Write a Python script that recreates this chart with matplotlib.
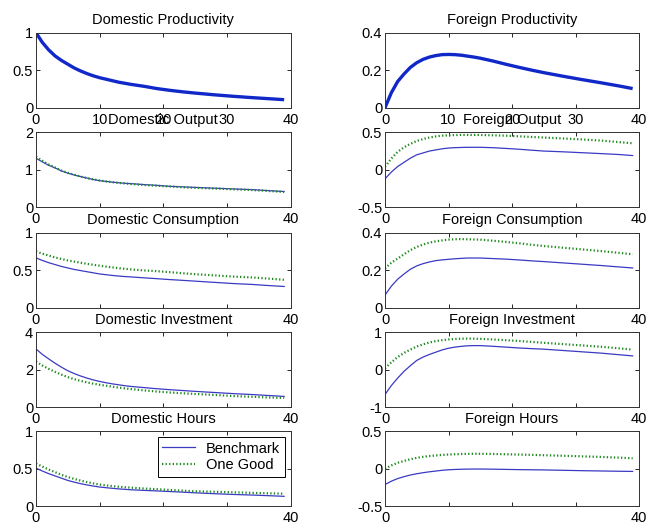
import matplotlib
matplotlib.use("Agg")
import matplotlib.pyplot as plt

# ---- data ----
t = [0, 1, 2, 3, 4, 5, 6, 7, 8, 9, 10,
     11, 12, 13, 14, 15,
     17, 19, 21, 23, 25,
     28, 31, 34, 37, 39]

dom_prod = [1.0, 0.87, 0.77, 0.69, 0.63, 0.58, 0.53, 0.49, 0.455, 0.425, 0.40,
            0.38, 0.36, 0.34, 0.325, 0.31,
            0.285, 0.255, 0.232, 0.212, 0.195,
            0.172, 0.152, 0.134, 0.118, 0.107]
for_prod = [0.0, 0.08, 0.14, 0.18, 0.215, 0.24, 0.258, 0.27, 0.278, 0.283, 0.284,
            0.283, 0.28, 0.275, 0.27, 0.264,
            0.249, 0.232, 0.216, 0.201, 0.187,
            0.168, 0.15, 0.133, 0.115, 0.102]

dom_out_bench = [1.31, 1.21, 1.12, 1.05, 0.97, 0.91, 0.86, 0.82, 0.78, 0.74, 0.71,
                 0.69, 0.67, 0.655, 0.64, 0.63,
                 0.605, 0.585, 0.56, 0.545, 0.53,
                 0.51, 0.49, 0.47, 0.44, 0.42]
dom_out_one = [1.35, 1.24, 1.14, 1.06, 0.98, 0.92, 0.87, 0.82, 0.78, 0.745, 0.715,
               0.69, 0.67, 0.65, 0.635, 0.62,
               0.595, 0.575, 0.555, 0.535, 0.52,
               0.50, 0.48, 0.46, 0.43, 0.41]
for_out_bench = [-0.12, -0.03, 0.044, 0.10, 0.155, 0.20, 0.225, 0.25, 0.265, 0.28, 0.29,
                 0.295, 0.298, 0.30, 0.30, 0.30,
                 0.295, 0.285, 0.275, 0.262, 0.25,
                 0.24, 0.228, 0.216, 0.203, 0.19]
for_out_one = [0.04, 0.15, 0.24, 0.30, 0.345, 0.385, 0.41, 0.43, 0.445, 0.455, 0.46,
               0.463, 0.465, 0.465, 0.465, 0.464,
               0.46, 0.455, 0.447, 0.438, 0.43,
               0.418, 0.405, 0.39, 0.368, 0.354]

dom_con_bench = [0.664, 0.63, 0.60, 0.575, 0.55, 0.53, 0.51, 0.495, 0.48, 0.465, 0.45,
                 0.44, 0.43, 0.422, 0.415, 0.41,
                 0.398, 0.387, 0.375, 0.365, 0.354,
                 0.338, 0.322, 0.31, 0.293, 0.283]
dom_con_one = [0.75, 0.72, 0.695, 0.67, 0.65, 0.63, 0.615, 0.60, 0.585, 0.572, 0.56,
               0.548, 0.537, 0.527, 0.518, 0.51,
               0.497, 0.487, 0.474, 0.46, 0.447,
               0.431, 0.415, 0.403, 0.385, 0.372]
for_con_bench = [0.067, 0.115, 0.152, 0.18, 0.205, 0.223, 0.235, 0.244, 0.251, 0.255, 0.258,
                 0.261, 0.263, 0.265, 0.265, 0.265,
                 0.262, 0.259, 0.255, 0.25, 0.246,
                 0.239, 0.232, 0.225, 0.217, 0.212]
for_con_one = [0.209, 0.24, 0.262, 0.285, 0.307, 0.324, 0.337, 0.347, 0.354, 0.359, 0.363,
               0.365, 0.366, 0.365, 0.364, 0.363,
               0.357, 0.351, 0.344, 0.336, 0.329,
               0.32, 0.311, 0.302, 0.292, 0.285]

dom_inv_bench = [3.11, 2.82, 2.58, 2.35, 2.14, 1.95, 1.80, 1.67, 1.56, 1.46, 1.38,
                 1.31, 1.25, 1.20, 1.15, 1.11,
                 1.05, 0.99, 0.94, 0.895, 0.85,
                 0.79, 0.73, 0.68, 0.62, 0.58]
dom_inv_one = [2.44, 2.23, 2.05, 1.89, 1.74, 1.61, 1.50, 1.41, 1.33, 1.26, 1.20,
               1.15, 1.10, 1.05, 1.01, 0.97,
               0.90, 0.84, 0.79, 0.75, 0.71,
               0.66, 0.60, 0.56, 0.52, 0.50]
for_inv_bench = [-0.66, -0.42, -0.22, -0.04, 0.11, 0.25, 0.34, 0.41, 0.47, 0.53, 0.575,
                 0.605, 0.625, 0.64, 0.645, 0.645,
                 0.627, 0.605, 0.583, 0.565, 0.55,
                 0.515, 0.48, 0.445, 0.40, 0.37]
for_inv_one = [0.04, 0.20, 0.34, 0.45, 0.54, 0.62, 0.68, 0.73, 0.765, 0.79, 0.81,
               0.822, 0.83, 0.832, 0.83, 0.825,
               0.81, 0.79, 0.77, 0.745, 0.72,
               0.685, 0.65, 0.615, 0.57, 0.54]

dom_hrs_bench = [0.51, 0.47, 0.435, 0.405, 0.375, 0.345, 0.322, 0.302, 0.285, 0.27, 0.257,
                 0.248, 0.24, 0.232, 0.226, 0.22,
                 0.212, 0.205, 0.197, 0.189, 0.18,
                 0.168, 0.158, 0.15, 0.14, 0.133]
dom_hrs_one = [0.57, 0.53, 0.49, 0.455, 0.42, 0.39, 0.365, 0.343, 0.323, 0.305, 0.29,
               0.279, 0.269, 0.261, 0.254, 0.248,
               0.237, 0.228, 0.218, 0.209, 0.20,
               0.194, 0.187, 0.179, 0.172, 0.168]
for_hrs_bench = [-0.21, -0.165, -0.13, -0.105, -0.083, -0.066, -0.052, -0.04, -0.03, -0.02, -0.013,
                 -0.009, -0.006, -0.004, -0.003, -0.003,
                 -0.005, -0.008, -0.011, -0.013, -0.015,
                 -0.02, -0.025, -0.029, -0.033, -0.035]
for_hrs_one = [0.0, 0.045, 0.08, 0.105, 0.128, 0.146, 0.16, 0.17, 0.178, 0.185, 0.19,
               0.194, 0.197, 0.199, 0.2, 0.2,
               0.198, 0.194, 0.19, 0.186, 0.181,
               0.174, 0.166, 0.158, 0.148, 0.14]

titles = [["Domestic Productivity", "Foreign Productivity"],
          ["Domestic Output", "Foreign Output"],
          ["Domestic Consumption", "Foreign Consumption"],
          ["Domestic Investment", "Foreign Investment"],
          ["Domestic Hours", "Foreign Hours"]]

yticks = [[[0, 0.5, 1], [0, 0.2, 0.4]],
          [[0, 1, 2], [-0.5, 0, 0.5]],
          [[0, 0.5, 1], [0, 0.2, 0.4]],
          [[0, 2, 4], [-1, 0, 1]],
          [[0, 0.5, 1], [-0.5, 0, 0.5]]]
ytick_labels = [[["0", "0.5", "1"], ["0", "0.2", "0.4"]],
                [["0", "1", "2"], ["-0.5", "0", "0.5"]],
                [["0", "0.5", "1"], ["0", "0.2", "0.4"]],
                [["0", "2", "4"], ["-1", "0", "1"]],
                [["0", "0.5", "1"], ["-0.5", "0", "0.5"]]]

xticks = [0, 10, 20, 30, 40]
xtick_labels_full = ["0", "10", "20", "30", "40"]
xtick_labels_short = ["0", "", "", "", "40"]

bench = [[dom_out_bench, for_out_bench], [dom_con_bench, for_con_bench],
         [dom_inv_bench, for_inv_bench], [dom_hrs_bench, for_hrs_bench]]
one = [[dom_out_one, for_out_one], [dom_con_one, for_con_one],
       [dom_inv_one, for_inv_one], [dom_hrs_one, for_hrs_one]]

# ---- figure ----
plt.rcParams['font.family'] = ['Liberation Sans', 'DejaVu Sans']
plt.rcParams['font.size'] = 10

fig = plt.figure(figsize=(6.47, 5.29), dpi=100)
W, H = 647.0, 529.0
col_left = [36.0, 385.0]
col_w = [254.5, 254.0]
row_top = [32.7, 132.3, 232.7, 332.3, 431.3]
ax_h = 75.0

bench_color = '#3a3ac4'
one_color = '#1f8a1f'
prod_color = '#1028c8'

for r in range(5):
    for c in range(2):
        ax = fig.add_axes([col_left[c] / W, 1 - (row_top[r] + ax_h) / H,
                           col_w[c] / W, ax_h / H])
        if r == 0:
            data = dom_prod if c == 0 else for_prod
            ax.plot(t, data, color=prod_color, lw=2.4, solid_capstyle='butt',
                    solid_joinstyle='round')
        else:
            ax.plot(t, bench[r - 1][c], color=bench_color, lw=0.9, label='Benchmark')
            ax.plot(t, one[r - 1][c], color=one_color, lw=1.6,
                    linestyle=(0, (0.6, 1.0)), dash_capstyle='butt', label='One Good')
        yt = yticks[r][c]
        ax.set_ylim(yt[0], yt[-1])
        ax.set_yticks(yt)
        ax.set_yticklabels(ytick_labels[r][c])
        ax.set_xlim(0, 40)
        ax.set_xticks(xticks)
        ax.set_xticklabels(xtick_labels_full if r == 0 else xtick_labels_short)
        ax.tick_params(direction='in', length=3, width=0.6, top=True, right=True,
                       labelsize=10.5, colors='black')
        ax.tick_params(axis='x', pad=3.5)
        ax.tick_params(axis='y', pad=2)
        for s in ax.spines.values():
            s.set_linewidth(0.7)
            s.set_color('#333333')
        ax.set_title(titles[r][c], fontsize=10.5, pad=6)
        if r == 4 and c == 0:
            leg = ax.legend(loc='upper right', fontsize=10.5, frameon=True, fancybox=False,
                            framealpha=1, edgecolor='black', handlelength=2.2,
                            borderpad=0.3, labelspacing=0.2, handletextpad=0.8,
                            borderaxespad=0.4)
            leg.get_frame().set_linewidth(0.7)

fig.savefig("out.png", dpi=100)
